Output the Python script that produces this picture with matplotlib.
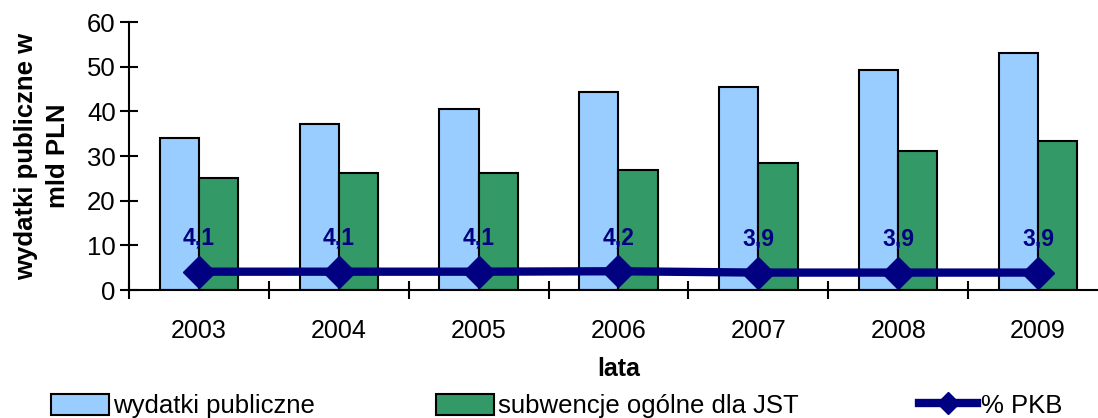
import matplotlib
matplotlib.use("Agg")
import matplotlib.pyplot as plt
from matplotlib.patches import Patch
from matplotlib.lines import Line2D
import numpy as np

years = ["2003", "2004", "2005", "2006", "2007", "2008", "2009"]
wydatki = [34.0, 37.1, 40.5, 44.3, 45.4, 49.2, 53.0]
subwencje = [25.0, 26.2, 26.2, 26.8, 28.4, 31.1, 33.3]
pkb = [4.1, 4.1, 4.1, 4.2, 3.9, 3.9, 3.9]
pkb_labels = ["4,1", "4,1", "4,1", "4,2", "3,9", "3,9", "3,9"]

plt.rcParams['font.family'] = ['Liberation Sans', 'DejaVu Sans']

c_blue = "#99CCFF"
c_green = "#339966"
c_navy = "#000080"

fig = plt.figure(figsize=(10.98, 4.18), dpi=100)
ax = fig.add_axes([129/1098, (418-290)/418, (1108-129)/1098, (290-22)/418])

x = np.arange(len(years))
w = 0.28
ax.bar(x - w/2, wydatki, w, color=c_blue, edgecolor="black", linewidth=1.5, zorder=2)
ax.bar(x + w/2, subwencje, w, color=c_green, edgecolor="black", linewidth=1.5, zorder=2)
ax.plot(x, pkb, color=c_navy, linewidth=6, marker="D", markersize=16, zorder=3,
        clip_on=False)
for xi, v, lab in zip(x, pkb, pkb_labels):
    ax.annotate(lab, (xi, v), xytext=(0, 24), textcoords="offset points",
                ha="center", va="center", color=c_navy, fontsize=16.5,
                fontweight="bold", zorder=4)

ax.set_xlim(-0.5, 6.5)
ax.set_ylim(0, 60)
ax.set_yticks(range(0, 61, 10))
ax.set_xticks(x)
ax.set_xticklabels(years)
ax.set_xticks(np.arange(-0.5, 7.0, 1.0), minor=True)
ax.tick_params(axis="x", which="major", length=0, pad=21, labelsize=18)
ax.tick_params(axis="x", which="minor", direction="inout", length=13, width=1.5)
ax.tick_params(axis="y", direction="inout", length=13, width=1.5, labelsize=18.5, pad=3)
for s in ["top", "right"]:
    ax.spines[s].set_visible(False)
for s in ["left", "bottom"]:
    ax.spines[s].set_linewidth(1.5)

ax.set_ylabel("wydatki publiczne w\nmld PLN", fontsize=18.5, fontweight="bold",
              linespacing=1.45, labelpad=12)
ax.set_xlabel("lata", fontsize=18, fontweight="bold", labelpad=10)

h1 = Patch(facecolor=c_blue, edgecolor="black", linewidth=1.5)
h2 = Patch(facecolor=c_green, edgecolor="black", linewidth=1.5)
h3 = Line2D([], [], color=c_navy, linewidth=6, marker="D", markersize=11)
common = dict(loc="center left", frameon=False, fontsize=18.5, borderpad=0,
              borderaxespad=0, handlelength=2.25, handleheight=0.9, handletextpad=0.15)
yl = 1 - 406/418
fig.legend([h1], ["wydatki publiczne"], bbox_to_anchor=(51/1098, yl), **common)
fig.legend([h2], ["subwencje ogólne dla JST"], bbox_to_anchor=(436/1098, yl), **common)
fig.legend([h3], ["% PKB"], bbox_to_anchor=(919/1098, yl), **common)

fig.savefig("out.png", dpi=100)
